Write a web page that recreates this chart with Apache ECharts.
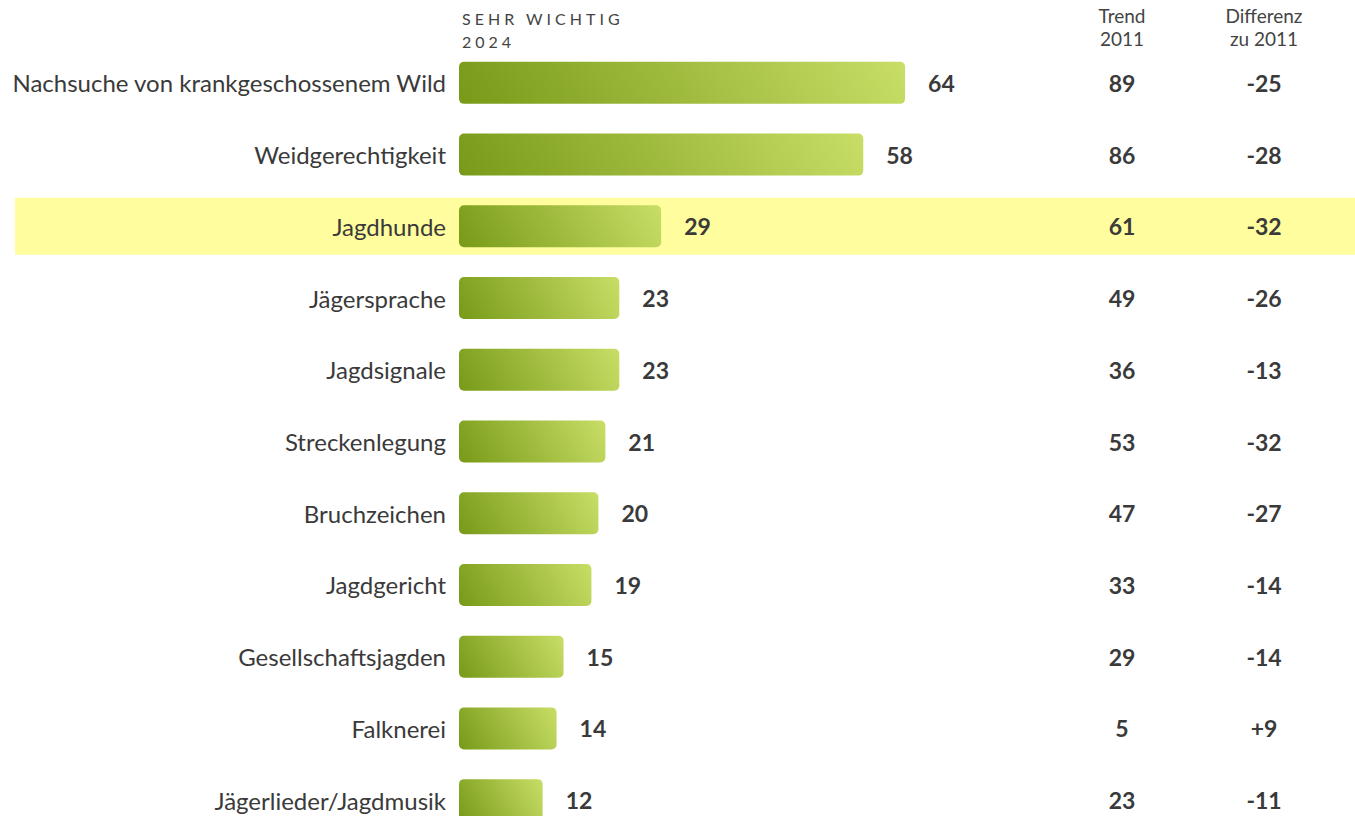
<!DOCTYPE html>
<html>
<head>
<meta charset="utf-8">
<script src="https://cdn.jsdelivr.net/npm/echarts@6/dist/echarts.min.js"></script>
<style>
  html, body { margin: 0; padding: 0; background: #fff; }
  #chart { width: 1355px; height: 816px; }
</style>
</head>
<body>
<div id="chart"></div>
<script>
// Daten
const categories = [
  'Nachsuche von krankgeschossenem Wild', 'Weidgerechtigkeit', 'Jagdhunde',
  'Jägersprache', 'Jagdsignale', 'Streckenlegung', 'Bruchzeichen',
  'Jagdgericht', 'Gesellschaftsjagden', 'Falknerei', 'Jägerlieder/Jagdmusik'
];
const values2024 = [64, 58, 29, 23, 23, 21, 20, 19, 15, 14, 12];
const trend2011 = [89, 86, 61, 49, 36, 53, 47, 33, 29, 5, 23];
const diff2011 = [-25, -28, -32, -26, -13, -32, -27, -14, -14, 9, -11];
const highlight = [0, 0, 1, 0, 0, 0, 0, 0, 0, 0, 0];
const columnHeads = ['Trend\n2011', 'Differenz\nzu 2011'];

const font = 'Lato';
const textColor = '#3a3a3a';
const barHeight = 42;
const angle = 30 * Math.PI / 180; // Verlauf schräg nach rechts oben

const numStyle = { fontFamily: font, fontSize: 23, fontWeight: 'bold', color: textColor };

const chart = echarts.init(document.getElementById('chart'), null, { renderer: 'svg' });

const option = {
  animation: false,
  textStyle: { fontFamily: font },
  title: {
    text: 'SEHR WICHTIG\n2024',
    left: 457, top: 2,
    textStyle: { fontFamily: font, fontSize: 16, fontWeight: 'normal', color: '#444', lineHeight: 23 }
  },
  grid: [
    { left: 459, width: 697, top: 47, height: 789, outerBoundsMode: 'none' },   // Balken
    { left: 15, right: 0, top: 47, height: 789, outerBoundsMode: 'none' },      // Hervorhebung
    { left: 1051, width: 284, top: 47, height: 789, outerBoundsMode: 'none' }   // Spalten
  ],
  xAxis: [
    { gridIndex: 0, type: 'value', min: 0, max: 100, show: false },
    { gridIndex: 1, type: 'value', min: 0, max: 1, show: false },
    {
      gridIndex: 2, type: 'category', data: columnHeads, position: 'top',
      axisLine: { show: false }, axisTick: { show: false },
      axisLabel: { fontFamily: font, fontSize: 19, color: '#444', lineHeight: 23, margin: -3 }
    }
  ],
  yAxis: [
    {
      gridIndex: 0, type: 'category', data: categories, inverse: true,
      axisLine: { show: false }, axisTick: { show: false },
      axisLabel: { fontFamily: font, fontSize: 24, color: textColor, margin: 13 }
    },
    { gridIndex: 1, type: 'category', data: categories, inverse: true, show: false },
    { gridIndex: 2, type: 'category', data: categories, inverse: true, show: false }
  ],
  series: [
    {
      type: 'bar', xAxisIndex: 1, yAxisIndex: 1, z: 0,
      data: highlight, barWidth: 57,
      itemStyle: { color: '#fffd9d' },
      silent: true
    },
    {
      id: 'bars', type: 'bar', xAxisIndex: 0, yAxisIndex: 0, z: 3,
      data: values2024, barWidth: barHeight,
      itemStyle: { borderRadius: 5, color: '#a5c040' },
      label: Object.assign({ show: true, position: 'right', distance: 23 }, numStyle)
    },
    {
      type: 'scatter', xAxisIndex: 2, yAxisIndex: 2, z: 3,
      data: trend2011.map((v, i) => [0, i, v]),
      symbolSize: 0, itemStyle: { color: textColor, opacity: 1 },
      label: Object.assign({
        show: true, position: 'inside', formatter: p => p.value[2]
      }, numStyle)
    },
    {
      type: 'scatter', xAxisIndex: 2, yAxisIndex: 2, z: 3,
      data: diff2011.map((v, i) => [1, i, v]),
      symbolSize: 0, itemStyle: { color: textColor, opacity: 1 },
      label: Object.assign({
        show: true, position: 'inside',
        formatter: p => (p.value[2] > 0 ? '+' : '') + p.value[2]
      }, numStyle)
    }
  ]
};

chart.setOption(option);

// Verlauf je Balken im Pixelraum (dunkel unten links -> hell oben rechts)
const barData = values2024.map((v, i) => {
  const p0 = chart.convertToPixel({ xAxisIndex: 0, yAxisIndex: 0 }, [0, categories[i]]);
  const p1 = chart.convertToPixel({ xAxisIndex: 0, yAxisIndex: 0 }, [v, categories[i]]);
  const w = p1[0] - p0[0];
  const x0 = p0[0], y0 = p0[1] + barHeight / 2;
  const len = w * Math.cos(angle) + barHeight * Math.sin(angle);
  return {
    value: v,
    itemStyle: {
      color: new echarts.graphic.LinearGradient(
        x0, y0, x0 + len * Math.cos(angle), y0 - len * Math.sin(angle),
        [{ offset: 0, color: '#789a18' }, { offset: 1, color: '#c8de66' }],
        true
      )
    }
  };
});
chart.setOption({ series: [{ id: 'bars', data: barData }] });

// Sperrschrift für die Kopfzeile
function spaceHeader() {
  document.querySelectorAll('#chart svg text').forEach(t => {
    const s = t.textContent.trim();
    if (s === 'SEHR WICHTIG' || s === '2024') t.style.letterSpacing = '4px';
  });
}
chart.on('finished', spaceHeader);
setTimeout(spaceHeader, 50);

window.addEventListener('resize', () => chart.resize());
</script>
</body>
</html>
